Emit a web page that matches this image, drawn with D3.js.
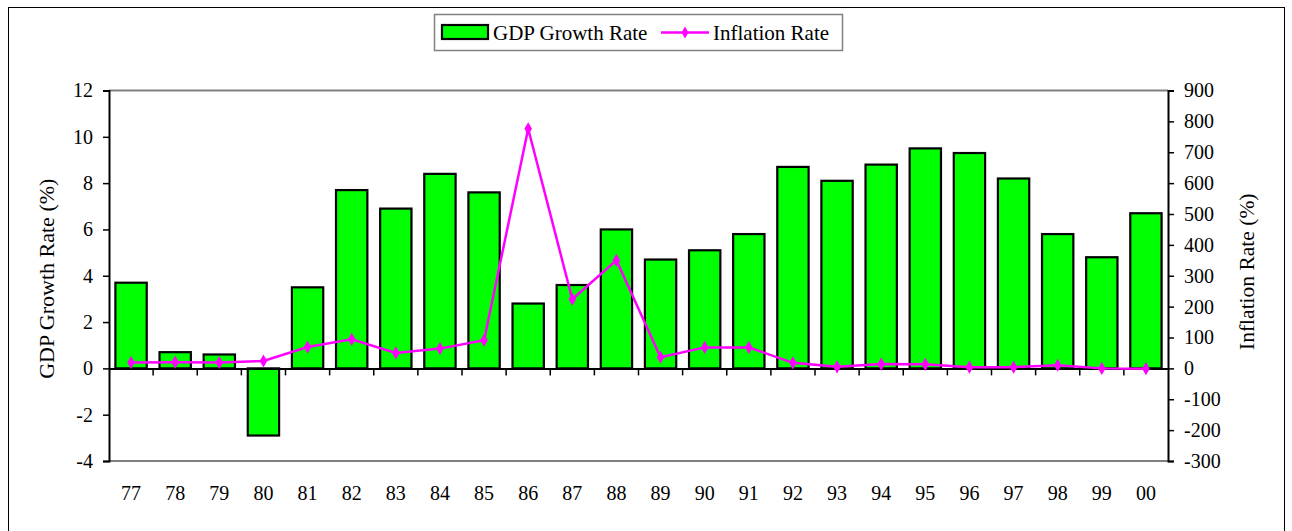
<!DOCTYPE html>
<html>
<head>
<meta charset="utf-8">
<script src="https://cdn.jsdelivr.net/npm/d3@7"></script>
<style>
  html, body { margin: 0; padding: 0; background: #fff; }
  svg { display: block; }
  text { font-family: "Liberation Serif", "Times New Roman", serif; fill: #000; }
</style>
</head>
<body>
<div id="chart"></div>
<script>
const years = ["77","78","79","80","81","82","83","84","85","86","87","88","89","90","91","92","93","94","95","96","97","98","99","00"];
const gdpGrowth = [3.7,0.7,0.6,-2.9,3.5,7.7,6.9,8.4,7.6,2.8,3.6,6.0,4.7,5.1,5.8,8.7,8.1,8.8,9.5,9.3,8.2,5.8,4.8,6.7];
const inflation = [19,20,19,24,69,94,50,64,91,776,224,350,36,68,68,18,5,14,13,4,4,10,0,-1];
const leftTicks = [-4,-2,0,2,4,6,8,10,12];
const rightTicks = [-300,-200,-100,0,100,200,300,400,500,600,700,800,900];

const W = 1292, H = 531;
const m = { left: 109, right: 1168, top: 90.5, bottom: 461 };

const svg = d3.select("#chart").append("svg").attr("width", W).attr("height", H);

// outer frame
svg.append("rect").attr("x", 8.5).attr("y", 7.5).attr("width", 1276).attr("height", 540)
  .attr("fill", "none").attr("stroke", "#000").attr("stroke-width", 1);

const x = d3.scaleBand().domain(years).range([m.left, m.right]).paddingInner(0.29).paddingOuter(0.145);
const xb = d3.scaleBand().domain(years).range([m.left, m.right]);
const yL = d3.scaleLinear().domain([-4, 12]).range([m.bottom, m.top]);
const yR = d3.scaleLinear().domain([-300, 900]).range([m.bottom, m.top]);

// plot area border top & bottom (gray)
svg.append("line").attr("x1", m.left).attr("x2", m.right).attr("y1", m.top).attr("y2", m.top)
  .attr("stroke", "#808080").attr("stroke-width", 2);
svg.append("line").attr("x1", m.left).attr("x2", m.right).attr("y1", m.bottom).attr("y2", m.bottom)
  .attr("stroke", "#808080").attr("stroke-width", 2);

// bars
svg.append("g").selectAll("rect").data(gdpGrowth).join("rect")
  .attr("x", (d, i) => x(years[i]))
  .attr("width", x.bandwidth())
  .attr("y", d => yL(Math.max(0, d)))
  .attr("height", d => Math.abs(yL(d) - yL(0)))
  .attr("fill", "#00ff00")
  .attr("stroke", "#000")
  .attr("stroke-width", 2.2);

const fmt = d => String(d);

// left axis
const axL = svg.append("g").attr("transform", `translate(${m.left},0)`)
  .call(d3.axisLeft(yL).tickValues(leftTicks).tickSize(6).tickPadding(10).tickFormat(fmt));
axL.select(".domain").attr("stroke", "#000").attr("stroke-width", 2);
axL.selectAll(".tick line").attr("stroke", "#000").attr("stroke-width", 1.5);
axL.selectAll("text").style("font-size", "20px").style("font-family", "Liberation Serif");

// right axis
const axR = svg.append("g").attr("transform", `translate(${m.right},0)`)
  .call(d3.axisRight(yR).tickValues(rightTicks).tickSize(6).tickPadding(10).tickFormat(fmt));
axR.select(".domain").attr("stroke", "#000").attr("stroke-width", 2);
axR.selectAll(".tick line").attr("stroke", "#000").attr("stroke-width", 1.5);
axR.selectAll("text").style("font-size", "20px").style("font-family", "Liberation Serif");

// x axis at zero
const axX = svg.append("g").attr("transform", `translate(0,${yL(0)})`)
  .call(d3.axisBottom(xb).tickSize(0).tickFormat(""));
axX.select(".domain").attr("stroke", "#000").attr("stroke-width", 2);
// boundary ticks
svg.append("g").selectAll("line").data(years.slice(1)).join("line")
  .attr("x1", d => xb(d)).attr("x2", d => xb(d))
  .attr("y1", yL(0)).attr("y2", yL(0) + 7)
  .attr("stroke", "#000").attr("stroke-width", 1.5);

// category labels at bottom
svg.append("g").selectAll("text").data(years).join("text")
  .attr("x", d => xb(d) + xb.bandwidth() / 2)
  .attr("y", 500)
  .attr("text-anchor", "middle")
  .style("font-size", "20px")
  .text(d => d);

// inflation line
const line = d3.line().x((d, i) => xb(years[i]) + xb.bandwidth() / 2).y(d => yR(d));
svg.append("path").datum(inflation).attr("d", line)
  .attr("fill", "none").attr("stroke", "#ff00ff").attr("stroke-width", 2.5);
svg.append("g").selectAll("path").data(inflation).join("path")
  .attr("d", d3.symbol(d3.symbolDiamond, 50))
  .attr("transform", (d, i) => `translate(${xb(years[i]) + xb.bandwidth() / 2},${yR(d)})`)
  .attr("fill", "#ff00ff");

// axis titles
svg.append("text")
  .attr("transform", `translate(54,${(m.top + m.bottom) / 2 + 3}) rotate(-90)`)
  .attr("text-anchor", "middle")
  .style("font-size", "22px")
  .text("GDP Growth Rate (%)");
svg.append("text")
  .attr("transform", `translate(1254,${(m.top + m.bottom) / 2 - 4}) rotate(-90)`)
  .attr("text-anchor", "middle")
  .style("font-size", "21.5px")
  .text("Inflation Rate (%)");

// legend
const lg = svg.append("g");
lg.append("rect").attr("x", 434.5).attr("y", 14.5).attr("width", 408).attr("height", 36)
  .attr("fill", "#fff").attr("stroke", "#808080").attr("stroke-width", 1.5);
lg.append("rect").attr("x", 442).attr("y", 25).attr("width", 46).attr("height", 14)
  .attr("fill", "#00ff00").attr("stroke", "#000").attr("stroke-width", 2.2);
lg.append("text").attr("x", 493).attr("y", 40).style("font-size", "21px").text("GDP Growth Rate");
lg.append("line").attr("x1", 661).attr("x2", 709).attr("y1", 32.5).attr("y2", 32.5)
  .attr("stroke", "#ff00ff").attr("stroke-width", 2.5);
lg.append("path").attr("d", d3.symbol(d3.symbolDiamond, 40))
  .attr("transform", "translate(685,32.5)").attr("fill", "#ff00ff");
lg.append("text").attr("x", 713).attr("y", 40).style("font-size", "21px").text("Inflation Rate");
</script>
</body>
</html>
